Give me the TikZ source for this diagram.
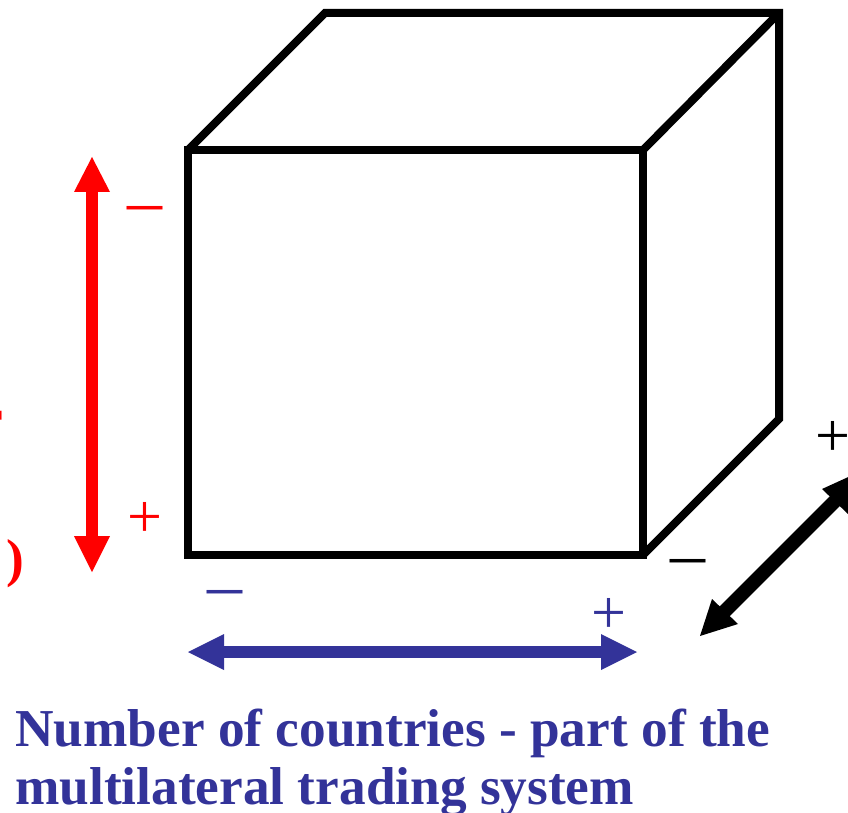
\documentclass[tikz,border=0pt]{standalone}
\usepackage{fontspec}
\setmainfont{Liberation Serif}
\definecolor{nblue}{RGB}{51,51,153}
\tikzset{
  cubeline/.style={draw=black,line width=8pt,line join=miter,line cap=butt,miter limit=10},
  plusmark/.style={font=\fontsize{62}{62}\selectfont,inner sep=0pt},
  minusmark/.style={font=\fontsize{70}{70}\selectfont,inner sep=0pt},
  head/.style={fill=#1,draw=none},
  shaft/.style={draw=#1,line width=12pt},
  captext/.style={font=\bfseries\fontsize{53.3}{53.3}\selectfont,text=nblue,anchor=base west,inner sep=0pt},
  redtext/.style={font=\bfseries\fontsize{53.3}{53.3}\selectfont,text=red,anchor=base east,inner sep=0pt},
}
\begin{document}
\begin{tikzpicture}[x=1pt,y=-1pt]
\useasboundingbox (0,0) rectangle (848,813);
\clip (0,0) rectangle (848,813);
% cube
\coordinate (A) at (188,150);
\coordinate (B) at (643,150);
\coordinate (C) at (643,555);
\coordinate (D) at (188,555);
\coordinate (E) at (325,13);
\coordinate (F) at (779,13);
\coordinate (G) at (779,419);
\draw[cubeline] (A) -- (B) -- (C) -- (D) -- cycle;
\draw[cubeline] (A) -- (E) -- (F) -- (G) -- (C);
\draw[cubeline] (B) -- (F);
% red arrow
\coordinate (r1) at (92,185);
\coordinate (r2) at (92,540);
\draw[shaft=red] (r1) -- (r2);
\fill[head=red] (92,157) -- (110,192) -- (74,192) -- cycle;
\fill[head=red] (92,572) -- (110,536) -- (74,536) -- cycle;
% blue arrow
\coordinate (b1) at (215,652);
\coordinate (b2) at (610,652);
\draw[shaft=nblue] (b1) -- (b2);
\fill[head=nblue] (188,652) -- (224,634) -- (224,670) -- cycle;
\fill[head=nblue] (637,652) -- (601,634) -- (601,670) -- cycle;
% black arrow
\coordinate (k1) at (720,616);
\coordinate (k2) at (850,486);
\draw[shaft=black,line width=14pt] (k1) -- (k2);
\fill[head=black] (700,636) -- (712,599) -- (738,624) -- cycle;
\fill[head=black] (868,468) -- (822,489) -- (848,514) -- cycle;
% signs
\node[minusmark,text=red] (rm) at (145,215) {–};
\node[plusmark,text=red] (rp) at (145,520) {+};
\node[minusmark,text=nblue] (bm) at (225,599) {–};
\node[plusmark,text=nblue] (bp) at (609,616) {+};
\node[minusmark,text=black] (km) at (688,568) {–};
\node[plusmark,text=black] (kp) at (833,439) {+};
% clipped red label
\node[redtext] (rl) at (24,576) {s\kern6pt)};
\node[redtext] (rt) at (3,436) {r};
% caption
\node[captext] (c1) at (15,746) {Number of countries - part of the};
\node[captext] (c2) at (15,804.5) {multilateral trading system};
\end{tikzpicture}
\end{document}
